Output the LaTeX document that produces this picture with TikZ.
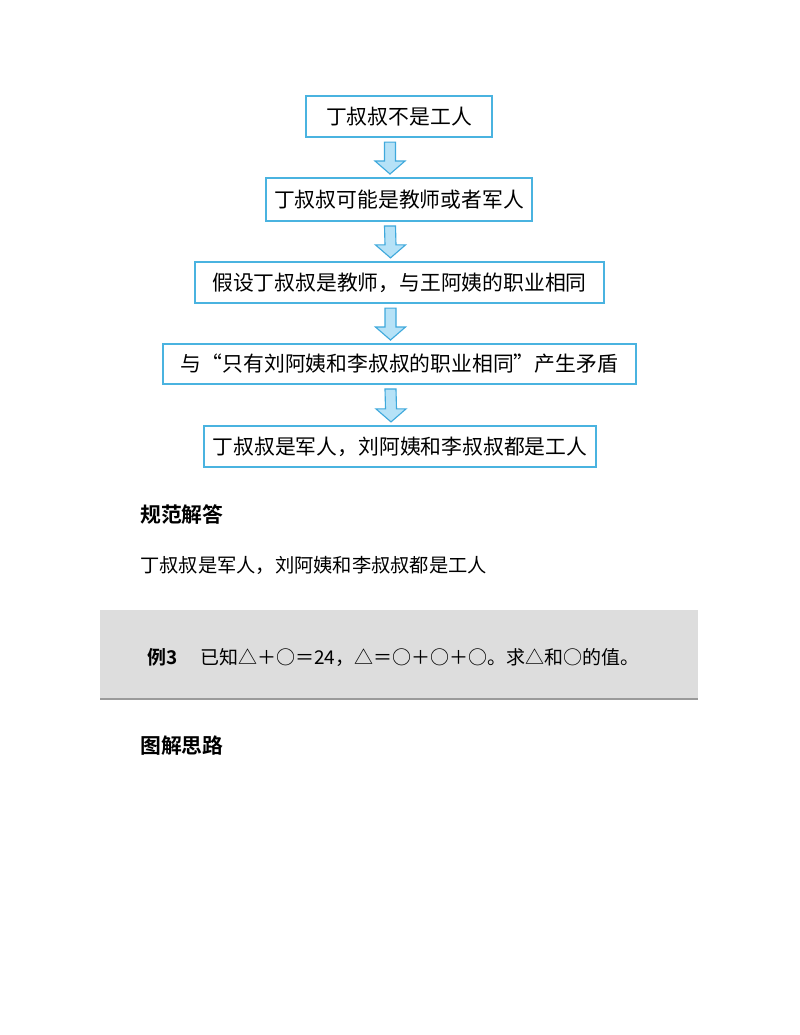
\documentclass[tikz,border=0pt]{standalone}
\usepackage{fontspec}
\setmainfont{Noto Sans CJK SC}[BoldFont={Noto Sans CJK SC Bold}]
\usetikzlibrary{calc}
\definecolor{boxline}{HTML}{4AB3E0}
\definecolor{arrowfill}{HTML}{B6E2F7}
\definecolor{arrowline}{HTML}{3FA9DC}
\definecolor{examplegray}{HTML}{DDDDDD}
\definecolor{exampleline}{HTML}{9A9A9A}
\newcommand{\flowarrow}[2]{%
  \draw[blockarrow] ($(#1.south)+(-14.5,4)$) -- ($(#2.north)+(-14.5,-16)$)
    -- ($(#2.north)+(-24,-16)$) -- ($(#2.north)+(-9,-3)$)
    -- ($(#2.north)+(6,-16)$) -- ($(#2.north)+(-3.5,-16)$)
    -- ($(#1.south)+(-3.5,4)$) -- cycle;}
\begin{document}
\begin{tikzpicture}[x=0.025cm,y=-0.025cm]
		\tikzset{step box/.style = {draw=boxline,line width=1.4pt,fill=white,inner sep=0pt,
			minimum height=1.03cm,font=\fontsize{14.8pt}{16pt}\selectfont}}
		\tikzset{blockarrow/.style = {draw=arrowline,fill=arrowfill,line width=0.8pt,line join=miter}}
		\tikzset{plain text/.style = {anchor=west,inner sep=0pt,font=\fontsize{13.7pt}{15pt}\selectfont}}
		\tikzset{heading/.style = {anchor=west,inner sep=0pt,font=\fontsize{14.8pt}{16pt}\selectfont\bfseries}}
		\useasboundingbox[fill=white] (0,0) rectangle (800,1035);
		\node[step box,minimum width=4.65cm] (s1) at (399,116.5) {丁叔叔不是工人};
		\node[step box,minimum width=6.65cm,minimum height=1.075cm] (s2) at (399,199.5) {丁叔叔可能是教师或者军人};
		\node[step box,minimum width=10.225cm] (s3) at (399.5,282.5) {假设丁叔叔是教师，与王阿姨的职业相同};
		\node[step box,minimum width=11.825cm,minimum height=1.0cm] (s4) at (399.5,364) {与“只有刘阿姨和李叔叔的职业相同”产生矛盾};
		\node[step box,minimum width=9.8cm] (s5) at (400,446.5) {丁叔叔是军人，刘阿姨和李叔叔都是工人};
		\flowarrow{s1}{s2}
		\flowarrow{s2}{s3}
		\flowarrow{s3}{s4}
		\flowarrow{s4}{s5}
		\node[heading] (answerhead) at (140,515) {规范解答};
		\node[plain text] (answer) at (140,565) {丁叔叔是军人，刘阿姨和李叔叔都是工人};
		\fill[examplegray] (100,610) rectangle (698,698);
		\draw[exampleline,line width=1.4pt] (100,699) -- (698,699);
		\node[anchor=west,inner sep=0pt,font=\fontsize{13.5pt}{15pt}\selectfont\bfseries] (exnum) at (147,657) {例3};
		\node[anchor=west,inner sep=0pt,font=\fontsize{13.5pt}{15pt}\selectfont] (extext) at (200,657) {已知△＋○＝24，△＝○＋○＋○。求△和○的值。};
		\node[heading] (ideahead) at (140,746) {图解思路};
	\end{tikzpicture}
\end{document}
